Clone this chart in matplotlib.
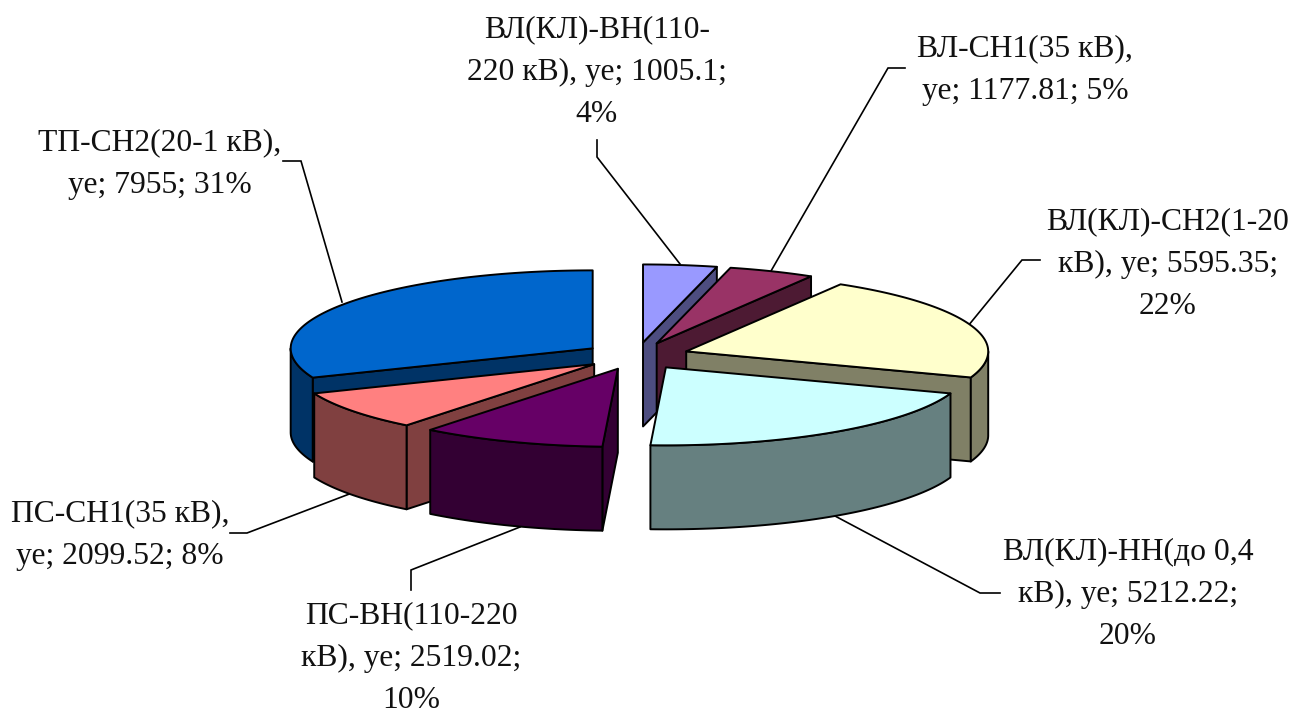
import numpy as np
import matplotlib
matplotlib.use("Agg")
import matplotlib.pyplot as plt
from matplotlib.patches import Polygon

plt.rcParams["font.family"] = ["Liberation Serif", "DejaVu Serif"]

# Cost shares by asset group, clockwise from twelve o'clock
categories = [
    "ВЛ(КЛ)-ВН(110-220 кВ)",
    "ВЛ-СН1(35 кВ)",
    "ВЛ(КЛ)-СН2(1-20 кВ)",
    "ВЛ(КЛ)-НН(до 0,4 кВ)",
    "ПС-ВН(110-220 кВ)",
    "ПС-СН1(35 кВ)",
    "ТП-СН2(20-1 кВ)",
]
values = [1005.1, 1177.81, 5595.35, 5212.22, 2519.02, 2099.52, 7955]
top_colors = ["#9999FF", "#993366", "#FFFFCC", "#CCFFFF", "#660066", "#FF8080", "#0066CC"]
wall_colors = ["#4D4D80", "#4D1A33", "#808066", "#668080", "#330033", "#804040", "#003366"]

# Text after which each label wraps onto a new line
wrap_after = [
    ["110-", "1005.1;"],
    ["кВ),"],
    ["1-20", "5595.35;"],
    ["0,4", "5212.22;"],
    ["110-220", "2519.02;"],
    ["кВ),"],
    ["кВ),"],
]

# Pie geometry in pixels
CX, CY = 636.5, 356.0
RX, RY = 302.0, 78.0
DEPTH = 84.0
EXPLODE = 0.175

# Label centres and leader-line routes
label_xy = [(597, 72), (1025, 70), (1168, 264), (1128, 594), (411, 658), (120, 535), (160, 164)]
leaders = [
    [(597, 140), (597, 157), (680, 264)],
    [(905, 68), (888, 68), (771, 271)],
    [(1040, 260), (1022, 260), (968, 326)],
    [(1000, 593), (980, 593), (835, 516)],
    [(411, 590), (411, 570), (520, 527)],
    [(230, 533), (247, 533), (352, 493)],
    [(283, 161), (301, 161), (342, 302)],
]

fig = plt.figure(figsize=(13.1, 7.15), dpi=100)
ax = fig.add_axes([0, 0, 1, 1])
ax.set_xlim(0, 1310)
ax.set_ylim(715, 0)
ax.axis("off")

total = sum(values)
edges = np.degrees(np.cumsum([0] + values) / total * 2 * np.pi)


def rim(ox, oy, start, end):
    t = np.radians(np.linspace(start, end, max(int(abs(end - start)), 2) + 1))
    return np.column_stack([ox + RX * np.sin(t), oy - RY * np.cos(t)])


def face(points, color, z):
    ax.add_patch(Polygon(points, closed=True, facecolor=color, edgecolor="black",
                         linewidth=1.4, joinstyle="round", zorder=z))


def extrude(upper):
    return np.vstack([upper, upper[::-1] + [0, DEPTH]])


# Back slices go first so that nearer ones overlap them
paint_order = [0, 1, 2, 6, 5, 4, 3]
for z, i in enumerate(paint_order, start=2):
    a0, a1 = edges[i], edges[i + 1]
    mid = np.radians((a0 + a1) / 2)
    ox = CX + EXPLODE * RX * np.sin(mid)
    oy = CY - EXPLODE * RY * np.cos(mid)
    apex = np.array([[ox, oy]])
    arc = rim(ox, oy, a0, a1)
    if np.sin(np.radians(a0)) < -1e-6:
        face(extrude(np.vstack([apex, arc[:1]])), wall_colors[i], z)
    if np.sin(np.radians(a1)) > 1e-6:
        face(extrude(np.vstack([apex, arc[-1:]])), wall_colors[i], z)
    lo, hi = max(a0, 90), min(a1, 270)
    if lo < hi:
        face(extrude(rim(ox, oy, lo, hi)), wall_colors[i], z)
    face(np.vstack([apex, arc]), top_colors[i], z)

for route in leaders:
    xs, ys = zip(*route)
    ax.plot(xs, ys, color="black", lw=1.2, zorder=1, solid_joinstyle="miter")

for name, v, breaks, (x, y) in zip(categories, values, wrap_after, label_xy):
    text = f"{name}, уе; {v}; {round(v / total * 100)}%"
    for token in breaks:
        text = text.replace(token, token + "\n", 1)
    text = text.replace("\n ", "\n")
    ax.text(x, y, text, ha="center", va="center", fontsize=22.8, color="#111111",
            linespacing=1.62, zorder=20)

fig.savefig("out.png", dpi=100, facecolor="white")
